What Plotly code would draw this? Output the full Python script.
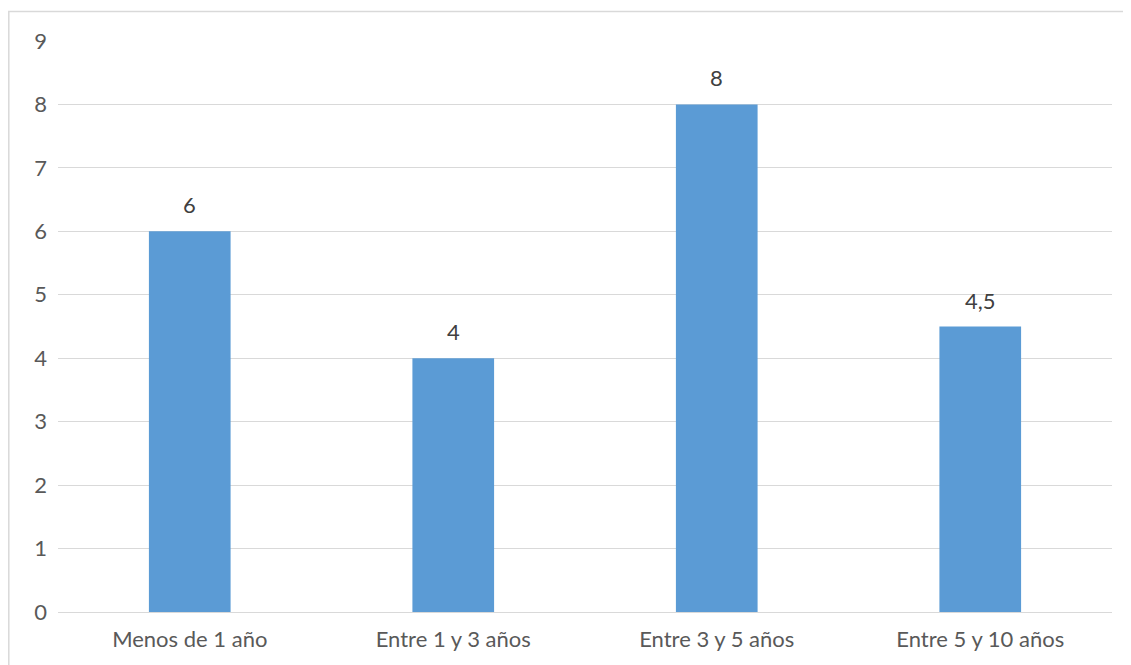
import plotly.graph_objects as go

categories = ["Menos de 1 año", "Entre 1 y 3 años", "Entre 3 y 5 años", "Entre 5 y 10 años"]
values = [6, 4, 8, 4.5]
labels = ["6", "4", "8", "4,5"]
y_ticks = list(range(0, 10))

OFF = 8  # page body margin
W, H = 1131 - OFF, 665 - OFF
L, T = 58 - OFF, 41 - OFF
R = W + OFF - 1112
B = H + OFF - 612
pw, ph = W - L - R, H - T - B

def px_x(p):
    return (p - OFF - L) / pw

def px_y(p):
    return (H + OFF - B - p) / ph

FS = 22
fig = go.Figure()
fig.add_trace(go.Bar(
    x=categories, y=values,
    marker=dict(color="#5B9BD5", line=dict(width=0)),
))

for c, v, t in zip(categories, values, labels):
    fig.add_annotation(x=c, y=v, text=t, showarrow=False, yanchor="bottom",
                       yshift=11, font=dict(size=FS, color="#404040"))

fig.update_layout(
    width=W, height=H,
    margin=dict(l=L, r=R, t=T, b=B),
    paper_bgcolor="white", plot_bgcolor="white",
    font=dict(family="Lato, Open Sans, sans-serif", size=FS, color="#595959"),
    bargap=0.69, showlegend=False,
    xaxis=dict(showgrid=False, showline=False, ticks="", ticklabelstandoff=12,
               tickfont=dict(size=FS, color="#595959")),
    yaxis=dict(range=[0, 9], tickvals=y_ticks, showgrid=True, gridcolor="#D9D9D9", gridwidth=1,
               zeroline=True, zerolinecolor="#D9D9D9", zerolinewidth=1,
               ticks="", ticklabelstandoff=10, tickfont=dict(size=FS, color="#595959")),
    shapes=[dict(type="rect", xref="paper", yref="paper",
                 x0=px_x(8.8), x1=px_x(1140), y0=px_y(680), y1=px_y(11.5),
                 line=dict(color="#D9D9D9", width=1.5), fillcolor="rgba(0,0,0,0)", layer="below")],
)

fig.write_html("out.html")
